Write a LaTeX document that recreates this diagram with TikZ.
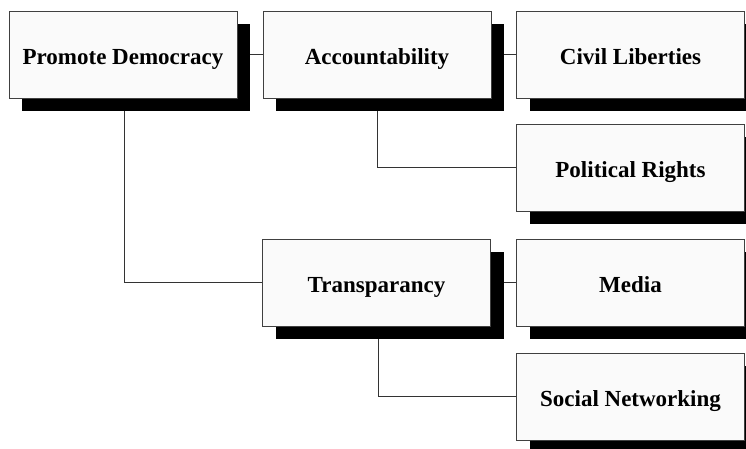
\documentclass[tikz,border=0pt]{standalone}
\usepackage{fontspec}
\setmainfont{Liberation Serif}
\usetikzlibrary{shadows,backgrounds}
\begin{document}
\begin{tikzpicture}[x=1pt,y=-1pt,
  box/.style={draw=black!75, line width=0.8pt, fill=black!2, rectangle,
    minimum width=228pt, minimum height=87pt, inner sep=0pt,
    text height=19pt, text depth=0pt,
    font=\fontsize{23}{26}\selectfont\bfseries,
    general shadow={fill=black, shadow xshift=13pt, shadow yshift=-13pt}},
  conn/.style={draw=black!80, line width=0.8pt}]
\useasboundingbox (0,0) rectangle (746,448);
\clip (0,0) rectangle (746,448);
\coordinate (pdv) at (124,282.5);
\coordinate (acv) at (377,167.5);
\coordinate (trv) at (378,396.5);
\path (123,54.5) node[box] (pd) {Promote Democracy};
\path (377,54.5) node[box] (ac) {Accountability};
\path (630.5,54.5) node[box] (cl) {Civil Liberties};
\path (630.5,167.5) node[box] (pr) {Political Rights};
\path (376.5,282.5) node[box] (tr) {Transparancy};
\path (630.5,282.5) node[box] (me) {Media};
\path (630.5,396.5) node[box] (sn) {Social Networking};
\begin{scope}[on background layer]
\draw[conn] (pd.east) -- (ac.west);
\draw[conn] (ac.east) -- (cl.west);
\draw[conn] (tr.east) -- (me.west);
\draw[conn] (pdv |- pd.south) -- (pdv) -- (tr.west);
\draw[conn] (acv |- ac.south) -- (acv) -- (pr.west);
\draw[conn] (trv |- tr.south) -- (trv) -- (sn.west);
\end{scope}
\end{tikzpicture}
\end{document}
